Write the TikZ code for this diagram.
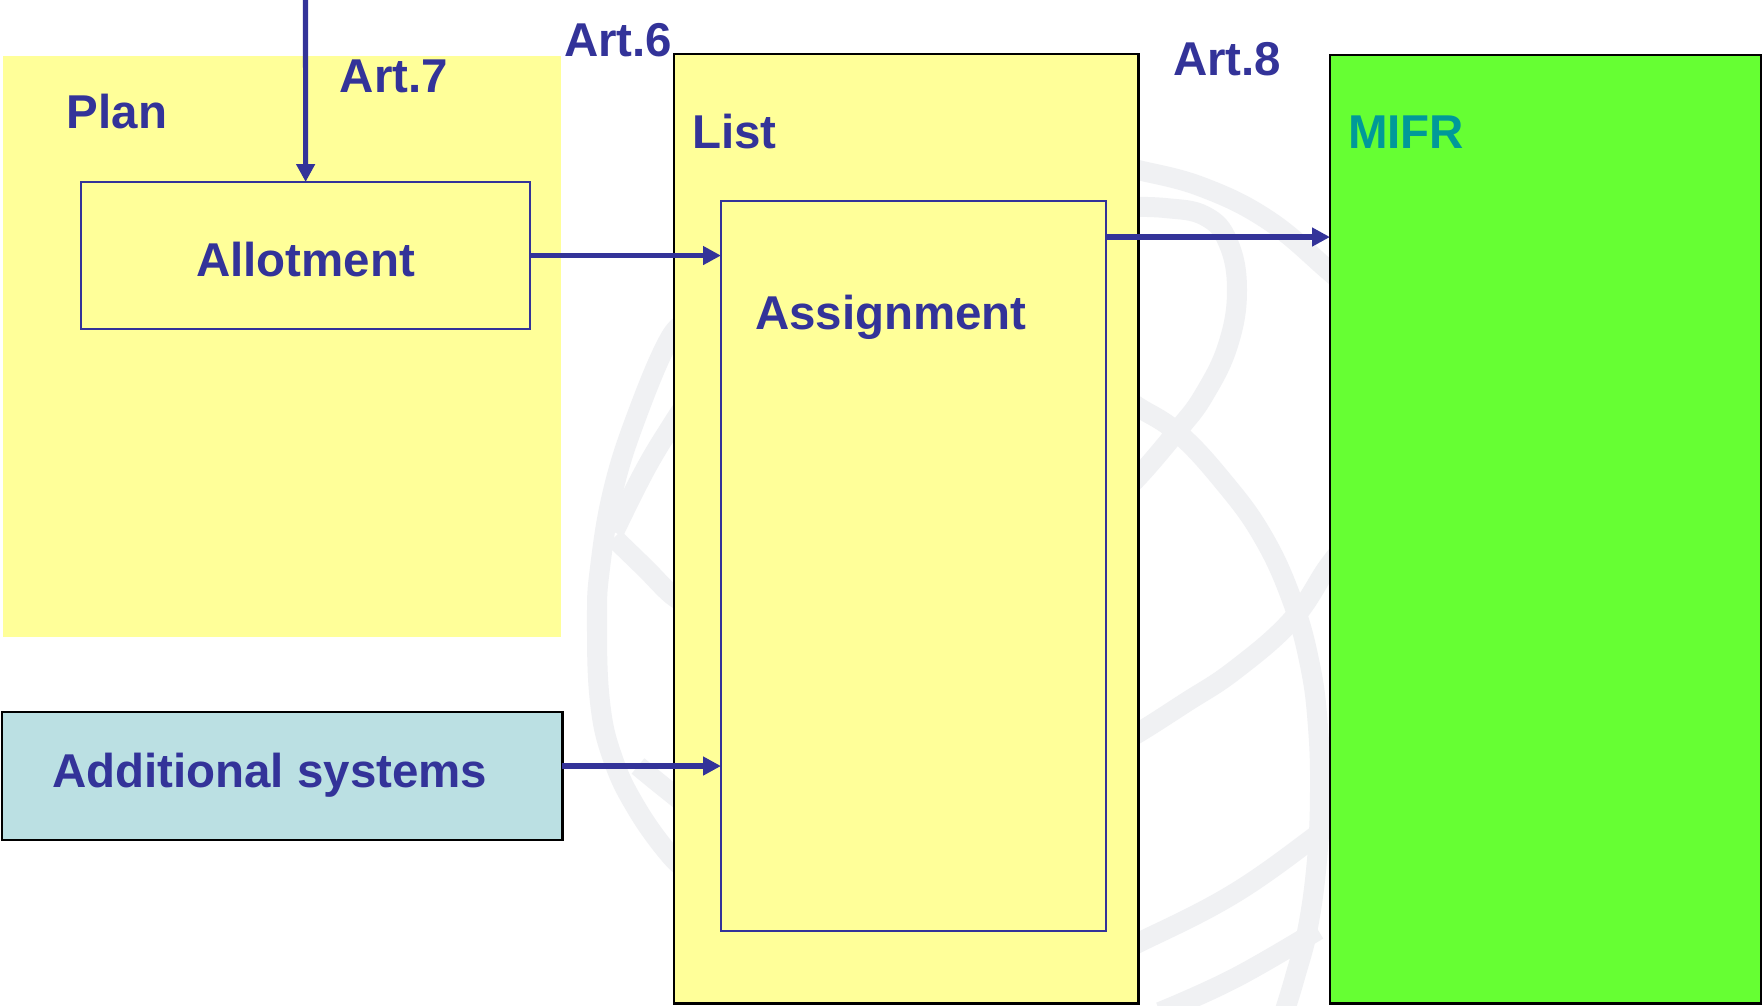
\documentclass[tikz,border=0pt]{standalone}
\usepackage{fontspec}
\setmainfont{Liberation Sans}
\usetikzlibrary{arrows.meta}
\definecolor{ink}{HTML}{333399}
\definecolor{yellowbg}{HTML}{FFFF99}
\definecolor{greenbg}{HTML}{66FF33}
\definecolor{tealtxt}{HTML}{009999}
\definecolor{cyanbg}{HTML}{BBE0E3}
\definecolor{wmgray}{HTML}{F0F1F3}
\newcommand\lblfont{\fontsize{13.5pt}{16pt}\selectfont\bfseries}
\tikzset{
  lbl/.style={anchor=base west, inner sep=0pt, outer sep=0pt, font=\lblfont, text=ink},
  region/.style={anchor=north west, inner sep=0pt, outer sep=0pt},
  outerbox/.style={region, draw=black, line width=0.7pt},
  innerbox/.style={region, draw=ink, line width=0.55pt, fill=yellowbg},
  arr/.style={draw=ink, line width=1.45pt, -{Triangle[length=5.1pt,width=5.1pt]}},
  wm/.style={draw=wmgray, line width=0.2cm}
}
\begin{document}
\begin{tikzpicture}[x=0.01cm, y=-0.01cm]
\useasboundingbox[fill=white] (0,0) rectangle (1762,1006);

% watermark globe (light grey), partly hidden behind the boxes
\draw[wm] plot[smooth, tension=0.7] coordinates {(690,322) (670,338) (637,415) (613,491) (600,568) (597,620) (600,702) (613,759) (637,809) (670,855) (690,872)};
\draw[wm] plot[smooth, tension=0.7] coordinates {(690,398) (672,425) (645,470) (614,532)};
\draw[wm] plot[smooth, tension=0.7] coordinates {(614,538) (645,568) (672,595) (690,605)};
\draw[wm] plot[smooth, tension=0.7] coordinates {(638,766) (660,784) (690,808)};
\draw[wm] plot[smooth, tension=0.7] coordinates {(1120,166) (1138,170) (1202,187) (1268,220) (1328,270) (1350,290)};
\draw[wm] plot[smooth, tension=0.7] coordinates {(1120,207) (1165,208) (1205,216) (1228,242) (1237,290) (1228,345) (1204,395) (1178,430) (1138,477) (1120,492)};
\draw[wm] plot[smooth, tension=0.7] coordinates {(1120,395) (1138,407) (1178,433) (1222,480) (1262,535) (1292,600) (1310,665) (1318,727) (1320,793) (1317,860) (1308,927) (1295,977) (1285,1010)};
\draw[wm] plot[smooth, tension=0.7] coordinates {(1350,540) (1328,567) (1292,620) (1235,670) (1185,703) (1138,733) (1120,742)};
\draw[wm] plot[smooth, tension=0.7] coordinates {(1350,812) (1328,827) (1235,893) (1138,943) (1120,951)};
\draw[wm] plot[smooth, tension=0.7] coordinates {(1318,930) (1235,978) (1160,1012)};

% regions
\node[region, fill=yellowbg, minimum width=5.58cm, minimum height=5.81cm] (plan) at (3,56) {};
\node[innerbox, minimum width=4.49cm, minimum height=1.47cm] (allot) at (81,182) {};
\node[outerbox, fill=yellowbg, minimum width=4.64cm, minimum height=9.49cm] (list) at (674,54) {};
\node[innerbox, minimum width=3.85cm, minimum height=7.30cm] (assign) at (721,201) {};
\node[outerbox, fill=greenbg, minimum width=4.31cm, minimum height=9.48cm] (mifr) at (1330,55) {};
\node[outerbox, fill=cyanbg, minimum width=5.60cm, minimum height=1.28cm] (addl) at (2,712) {};

% texts
\node[lbl] (tplan) at (67,129) {Plan};
\node[lbl] (tart7) at (340,93) {Art.7};
\node[lbl] (tart6) at (564,57) {Art.6};
\node[lbl] (tallot) at (196,276) {Allotment};
\node[lbl] (tlist) at (692,148) {List};
\node[lbl] (tart8) at (1173,75) {Art.8};
\node[lbl, text=tealtxt] (tmifr) at (1348,148) {MIFR};
\node[lbl] (tassign) at (755,330) {Assignment};
\node[lbl] (taddl) at (52,787) {Additional systems};

% connectors
\coordinate (src) at (305.5,0);
\draw[arr] (src) -- (allot.north);
\draw[arr] (allot.east) -- (allot.east -| assign.west);
\draw[arr] ([yshift=-0.36cm]assign.north east) coordinate (a3s) -- (a3s -| mifr.west);
\draw[arr] ([yshift=0.10cm]addl.east) coordinate (a4s) -- (a4s -| assign.west);
\end{tikzpicture}
\end{document}
